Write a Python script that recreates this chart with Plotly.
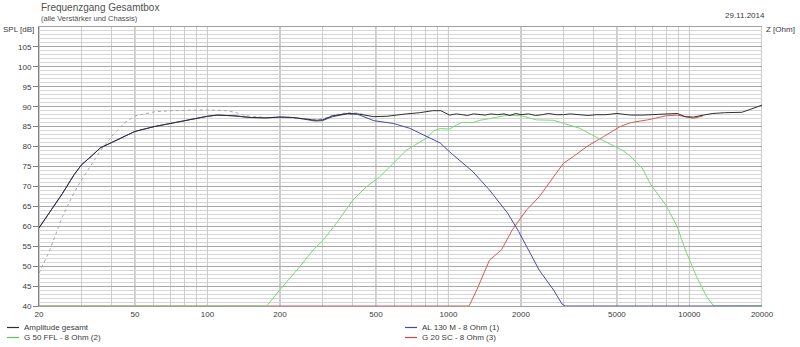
import plotly.graph_objects as go

# ---------------- data ----------------
total_f = [20, 22, 25, 28, 30, 33, 36, 40, 45, 50, 60, 70, 80, 90, 100, 110, 120, 130, 150, 175,
           200, 225, 250, 280, 300, 330, 380, 420, 490, 555, 670, 760, 860, 930, 1010, 1080, 1140,
           1200, 1270, 1350, 1420, 1500, 1600, 1700, 1800, 1900, 2000, 2150, 2300, 2450, 2600, 2800,
           3000, 3200, 3500, 3800, 4100, 4500, 5000, 5700, 6400, 7200, 8000, 8900, 9600, 10400,
           11400, 12500, 14000, 15200, 16500, 18000, 20000]
total_db = [59.6, 63.2, 68.2, 73.0, 75.4, 77.6, 79.7, 81.0, 82.4, 83.8, 85.0, 85.8, 86.5, 87.1, 87.6,
            87.9, 87.8, 87.7, 87.3, 87.2, 87.4, 87.3, 87.0, 86.6, 86.7, 87.7, 88.3, 88.2, 87.5, 87.6,
            88.2, 88.5, 89.0, 89.0, 87.9, 88.2, 88.0, 87.8, 88.2, 88.0, 87.9, 88.2, 88.0, 88.2, 87.8,
            88.3, 88.0, 88.2, 87.8, 88.0, 88.3, 88.0, 88.0, 88.2, 87.9, 87.8, 88.0, 88.0, 88.3, 87.9,
            87.9, 88.1, 88.3, 88.3, 87.5, 87.4, 87.9, 88.3, 88.5, 88.5, 88.6, 89.4, 90.4]

sim_f = [20, 22, 25, 28, 30, 33, 36, 40, 45, 50, 55, 60, 70, 80, 100, 120, 130, 140, 150, 175,
         200, 250, 280, 300, 330, 380, 420, 450]
sim_db = [48.3, 53.5, 62.4, 68.5, 71.6, 75.5, 79.0, 82.5, 85.8, 87.7, 88.3, 88.7, 89.0, 89.1, 89.2,
          89.0, 88.6, 88.0, 87.6, 87.3, 87.4, 87.0, 86.8, 86.9, 87.8, 88.5, 88.4, 88.0]

al130_f = [20, 22, 25, 28, 30, 33, 36, 40, 45, 50, 60, 70, 80, 90, 100, 110, 120, 130, 150, 175,
           200, 225, 250, 280, 300, 330, 380, 420, 490, 590, 690, 810, 924, 1010, 1110, 1263, 1480,
           1760, 1955, 2110, 2380, 2730, 2960, 3050, 20000]
al130_db = [59.6, 63.2, 68.2, 73.0, 75.4, 77.6, 79.7, 81.0, 82.4, 83.8, 85.0, 85.8, 86.5, 87.1, 87.6,
            87.9, 87.8, 87.7, 87.3, 87.2, 87.4, 87.3, 86.9, 86.4, 86.5, 87.5, 88.2, 88.1, 86.5, 85.8,
            84.6, 82.5, 80.9, 78.7, 76.6, 73.7, 69.1, 63.3, 58.7, 54.9, 49.0, 44.0, 40.5, 40.0, 40.0]

g50_f = [20, 176, 202, 242, 274, 303, 342, 402, 456, 518, 590, 669, 810, 870, 924, 1010, 1080,
         1140, 1263, 1350, 1480, 1600, 1760, 2010, 2320, 2730, 3000, 3500, 4100, 4800, 5300, 5700,
         6370, 6920, 7980, 8900, 9610, 10700, 11800, 12600, 20000]
g50_db = [40.0, 40.0, 44.4, 49.9, 54.0, 56.6, 60.7, 66.6, 69.9, 72.4, 75.8, 79.1, 82.1, 84.0, 84.5,
          84.4, 85.4, 86.1, 86.0, 86.6, 87.0, 87.4, 87.9, 87.7, 86.7, 86.6, 85.8, 84.6, 82.4, 80.4,
          79.0, 77.5, 74.6, 70.4, 65.3, 59.9, 54.1, 47.4, 42.3, 40.0, 40.0]

g20_f = [20, 1218, 1310, 1400, 1480, 1660, 1840, 2110, 2380, 2730, 3000, 3300, 3750, 4400, 5150,
         5700, 6700, 7980, 8900, 9610, 10400, 11400]
g20_db = [40.0, 40.0, 44.0, 48.0, 51.5, 54.1, 59.1, 64.1, 67.4, 72.4, 75.8, 77.5, 80.0, 82.5, 85.0,
          86.0, 86.7, 87.7, 87.9, 87.5, 87.1, 87.7]

x_major = [20, 50, 100, 200, 500, 1000, 2000, 5000, 10000, 20000]
x_minor = [30, 40, 60, 70, 80, 90, 300, 400, 600, 700, 800, 900, 3000, 4000, 6000, 7000, 8000, 9000]
spl_ticks = list(range(40, 110, 5))
z_ticks = list(range(5, 70, 5))

# ---------------- figure ----------------
W, H = 800, 347
L, R, T, B = 39, 38, 27, 41
PW, PH = W - L - R, H - T - B


def px(x):
    return (x - L) / PW


def py(y):
    return (H - B - y) / PH


FONT = "Liberation Sans, Arial, sans-serif"
TXT = "#3a3a3a"
XR = [1.30103, 4.30103]

fig = go.Figure()
fig.add_trace(go.Scatter(x=g20_f, y=g20_db, mode="lines", name="G 20 SC - 8 Ohm (3)",
                         line=dict(color="#d85858", width=1), showlegend=False))
fig.add_trace(go.Scatter(x=g50_f, y=g50_db, mode="lines", name="G 50 FFL - 8 Ohm (2)",
                         line=dict(color="#78d878", width=1), showlegend=False))
fig.add_trace(go.Scatter(x=al130_f, y=al130_db, mode="lines", name="AL 130 M - 8 Ohm (1)",
                         line=dict(color="#4848b0", width=1), showlegend=False))
fig.add_trace(go.Scatter(x=sim_f, y=sim_db, mode="lines", name="sim",
                         line=dict(color="#a8a8a8", width=1, dash="dot"), showlegend=False))
fig.add_trace(go.Scatter(x=total_f, y=total_db, mode="lines", name="Amplitude gesamt",
                         line=dict(color="#303030", width=1), showlegend=False))

all_x = sorted(x_major + x_minor)
fig.update_layout(
    width=W, height=H,
    margin=dict(l=L, r=R, t=T, b=B),
    paper_bgcolor="white", plot_bgcolor="white",
    font=dict(family=FONT, size=8, color=TXT),
    showlegend=False,
    xaxis=dict(type="log", range=XR, tickvals=all_x,
               ticktext=[str(v) if v in x_major else "" for v in all_x],
               showgrid=True, gridcolor="#cccccc", gridwidth=1, ticks="", zeroline=False,
               showline=True, linecolor="#a0a0a0", mirror=True,
               tickfont=dict(size=8, color=TXT)),
    yaxis=dict(range=[40, 110], tickvals=spl_ticks, showgrid=True, gridcolor="#a8a8a8",
               ticks="outside", ticklen=5, tickcolor="#808080", zeroline=False,
               showline=True, linecolor="#808080", tickfont=dict(size=8, color=TXT),
               minor=dict(dtick=1, showgrid=True, gridcolor="#d6d6d6", ticks="")),
    yaxis2=dict(range=[0, 70], overlaying="y", side="right", tickvals=z_ticks,
                showgrid=False, ticks="outside", ticklen=4, tickcolor="#808080",
                zeroline=False, showline=True, linecolor="#808080",
                tickfont=dict(size=8, color=TXT)),
)

shapes = []
# darker grid lines at the labelled frequencies
for v in x_major:
    shapes.append(dict(type="line", xref="x", yref="paper", x0=v, x1=v, y0=0, y1=1,
                       layer="below", line=dict(color="#989898", width=1)))

ann = [
    dict(text="Frequenzgang Gesamtbox", x=px(39), y=py(8), xanchor="left", yanchor="middle",
         font=dict(size=10, color="#505050")),
    dict(text="(alle Verstärker und Chassis)", x=px(39), y=py(18.5), xanchor="left",
         yanchor="middle", font=dict(size=7.5, color="#505050")),
    dict(text="29.11.2014", x=px(767), y=py(15), xanchor="right", yanchor="middle",
         font=dict(size=8, color=TXT)),
    dict(text="SPL [dB]", x=px(36), y=py(29.5), xanchor="right", yanchor="middle",
         font=dict(size=8, color=TXT)),
    dict(text="Z [Ohm]", x=px(764), y=py(30), xanchor="left", yanchor="middle",
         font=dict(size=8, color=TXT)),
]
legend_items = [
    ("Amplitude gesamt", "#303030", 7, 327.5),
    ("G 50 FFL - 8 Ohm (2)", "#58c858", 7, 337.5),
    ("AL 130 M - 8 Ohm (1)", "#4848b0", 405, 327.5),
    ("G 20 SC - 8 Ohm (3)", "#d04848", 405, 337.5),
]
for name, col, lx, ly in legend_items:
    ann.append(dict(text=name, x=px(lx + 15), y=py(ly), xanchor="left", yanchor="middle",
                    font=dict(size=8, color=TXT)))
    shapes.append(dict(type="line", xref="paper", yref="paper", x0=px(lx), x1=px(lx + 12),
                       y0=py(ly), y1=py(ly), line=dict(color=col, width=1.2)))
for a in ann:
    a.update(xref="paper", yref="paper", showarrow=False)
fig.update_layout(annotations=ann, shapes=shapes)

fig.write_html("out.html")
